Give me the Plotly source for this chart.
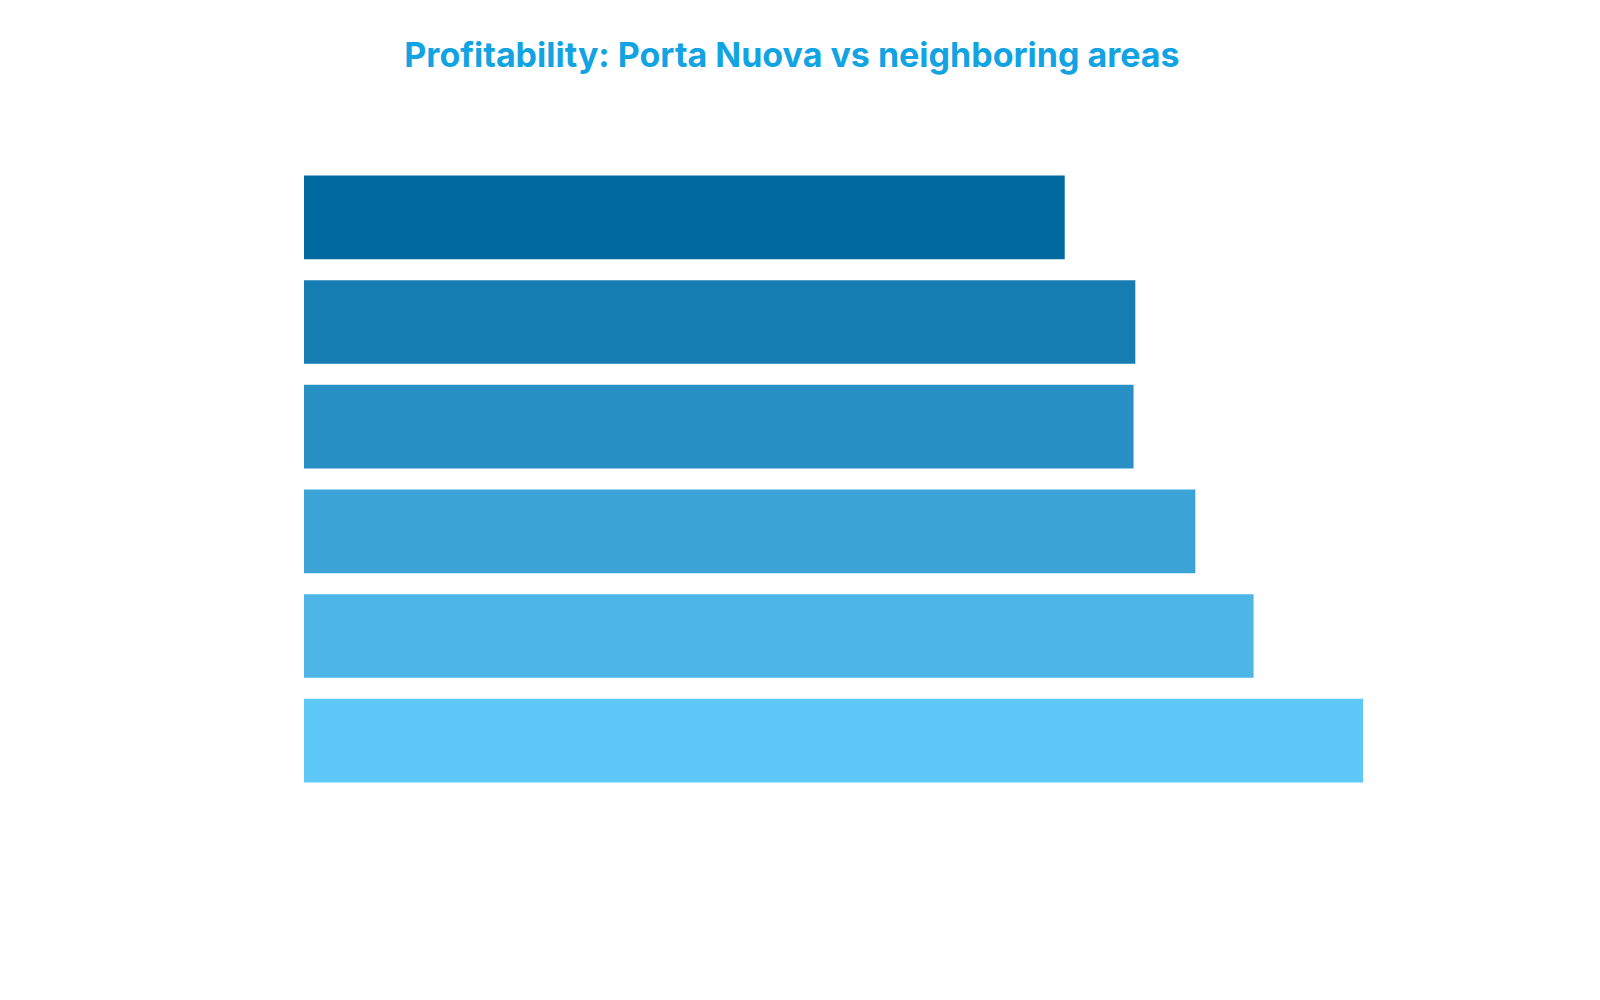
import plotly.graph_objects as go

areas = ["Porta Nuova", "Area B", "Area C", "Area D", "Area E", "Area F"]
profitability = [4.31, 4.71, 4.70, 5.05, 5.38, 6.0]
colors = ["#0069a0", "#157db1", "#2890c5", "#3ca3d6", "#4db6e6", "#5ec9f8"]

fig = go.Figure(go.Bar(
    x=profitability, y=areas, orientation="h",
    marker=dict(color=colors, line=dict(width=0)),
))
fig.update_layout(
    width=1600, height=1000,
    title=dict(text="<b>Profitability: Porta Nuova vs neighboring areas</b>",
               x=0.49, xanchor="center", y=0.965,
               font=dict(family="Inter", size=34, color="#12a3e3")),
    margin=dict(l=296, r=245, t=157, b=215),
    plot_bgcolor="white", paper_bgcolor="white",
    bargap=0.2, showlegend=False,
    xaxis=dict(visible=False, range=[0, 6.0]),
    yaxis=dict(visible=False, autorange="reversed"),
)
fig.write_html("out.html")
